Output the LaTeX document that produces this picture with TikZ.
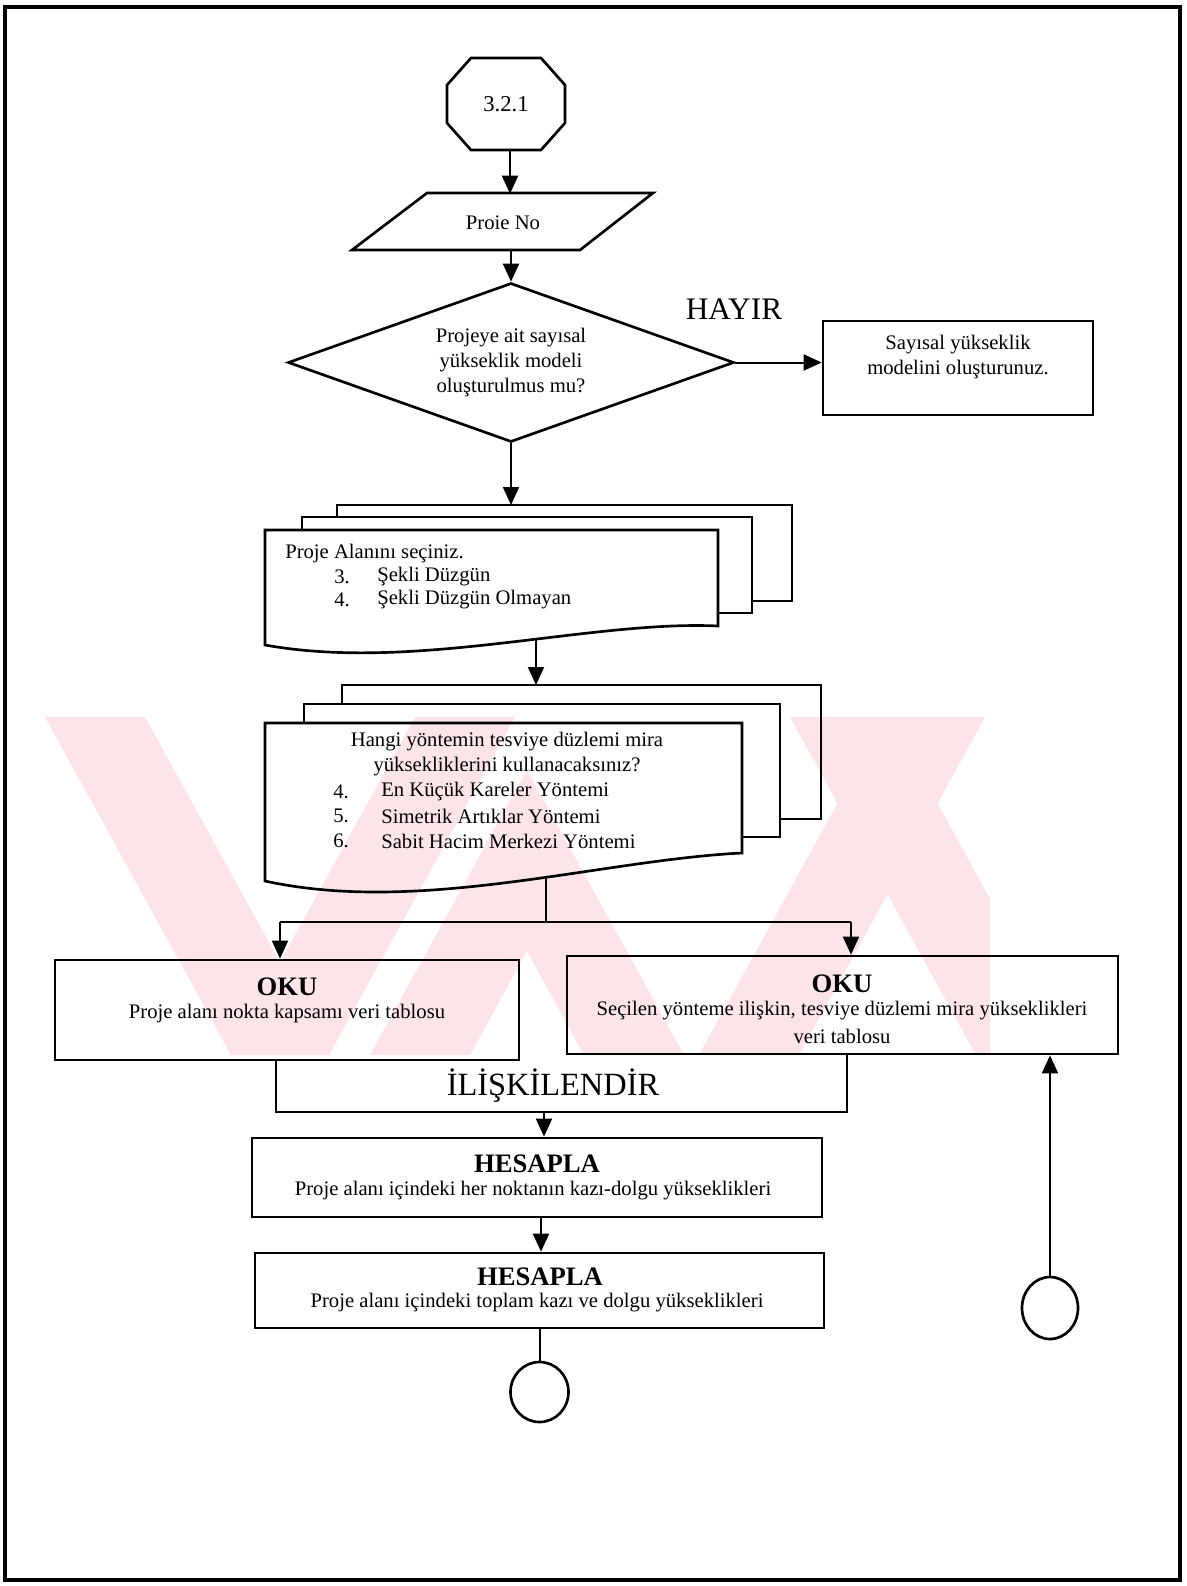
\documentclass[tikz,border=0pt]{standalone}
\usepackage{fontspec}
\setmainfont{Liberation Serif}
\usetikzlibrary{arrows.meta,shapes.geometric}
\definecolor{wm}{RGB}{252,228,233}
\begin{document}
\begin{tikzpicture}[x=0.75pt,y=-0.75pt,
  shp/.style={draw=black,line width=2pt,line join=miter},
  con/.style={draw=black,line width=1.5pt},
  arr/.style={con,-{Triangle[length=13.5pt,width=12pt]}},
  txt/.style={font=\fontsize{15.5pt}{18.5pt}\selectfont,inner sep=0pt,align=center},
  ttl/.style={font=\fontsize{20pt}{24pt}\selectfont\bfseries,inner sep=0pt},
  lbl/.style={txt,anchor=west}
]
\useasboundingbox (0,0) rectangle (1186,1586);
% watermark
\begin{scope}
  \clip (40,717) rectangle (990,1055);
  \fill[wm] (45,717) -- (145,717) -- (331,1055) -- (231,1055) -- cycle;
  \fill[wm] (415,717) -- (515,717) -- (329,1055) -- (229,1055) -- cycle;
  \fill[wm] (370,1055) -- (527,770) -- (684,1055) -- (584,1055) -- (527,951) -- (470,1055) -- cycle;
  \fill[wm] (790,717) -- (890,717) -- (1076,1055) -- (976,1055) -- cycle;
  \fill[wm] (885,717) -- (985,717) -- (799,1055) -- (699,1055) -- cycle;
\end{scope}
% page frame
\draw[line width=2.4pt] (5,7) rectangle (1180,1580);

% start octagon
\node[txt,font=\fontsize{17pt}{20pt}\selectfont,minimum width=88.5pt,minimum height=69pt] (oct) at (506,104) {3.2.1};
\draw[shp] (471,58) -- (541,58) -- (565,85) -- (565,123) -- (541,150) -- (471,150) -- (447,123) -- (447,85) -- cycle;

% parallelogram
\draw[shp] (427,193) -- (653,193) -- (580,250) -- (352,250) -- cycle;
\node[txt,minimum height=42.75pt] (par) at (503,222.5) {Proie No};
\draw[arr] ([xshift=3pt]oct.south) -- ([xshift=3pt]oct.south |- par.north);

% decision
\node[shp,diamond,txt,aspect=2.8,minimum width=334.5pt,minimum height=119.25pt] (dec) at (511,362.5)
  {Projeye ait sayısal\\yükseklik modeli\\oluşturulmus mu?};
\draw[arr] (par.south -| dec.north) -- (dec.north);
\node[font=\fontsize{23.5pt}{27pt}\selectfont,inner sep=0pt] (hayir) at (734,309) {HAYIR};

\node[shp,minimum width=202.5pt,minimum height=70.5pt,inner sep=0pt] (b1) at (958,368) {};
\node[txt] (b1t) at (958,357) {Sayısal yükseklik\\modelini oluşturunuz.};
\draw[arr] (dec.east) -- (dec.east -| b1.west);

% multi-document 1
\coordinate (d1top) at (511,505);
\draw[shp] (337,517) -- (337,505) -- (792,505) -- (792,601) -- (752,601);
\draw[shp] (302,530) -- (302,517) -- (752,517) -- (752,613) -- (718,613);
\draw[shp] (265,645) -- (265,530) -- (718,530) -- (718,626) .. controls (590,620) and (415,672) .. (265,645) -- cycle;
\draw[arr] (dec.south) -- (d1top);
\node[lbl] (d1a) at (285,554) {Proje Alanını seçiniz.};
\node[lbl] (d1n3) at (334,577) {3.};
\node[lbl] (d1i3) at (377,577) {Şekli Düzgün};
\node[lbl] (d1n4) at (334,600) {4.};
\node[lbl] (d1i4) at (377,600) {Şekli Düzgün Olmayan};

% multi-document 2
\coordinate (d1out) at (536,638);
\coordinate (d2top) at (536,685);
\draw[arr] (d1out) -- (d2top);
\draw[shp] (342,704) -- (342,685) -- (821,685) -- (821,819) -- (780,819);
\draw[shp] (304,723) -- (304,704) -- (780,704) -- (780,837) -- (742,837);
\draw[shp] (265,881) -- (265,723) -- (742,723) -- (742,853) .. controls (600,860) and (420,915) .. (265,881) -- cycle;
\node[txt] (d2h1) at (507,742) {Hangi yöntemin tesviye düzlemi mira};
\node[txt] (d2h2) at (507,767) {yüksekliklerini kullanacaksınız?};
\node[lbl] (d2n4) at (333,792) {4.};
\node[lbl] (d2i4) at (381,792) {En Küçük Kareler Yöntemi};
\node[lbl] (d2n5) at (333,816) {5.};
\node[lbl] (d2i5) at (381,816) {Simetrik Artıklar Yöntemi};
\node[lbl] (d2n6) at (333,841) {6.};
\node[lbl] (d2i6) at (381,841) {Sabit Hacim Merkezi Yöntemi};

% fork
\coordinate (d2out) at (546,876);
\coordinate (fork) at (546,922);
\coordinate (fl) at (280,922);
\coordinate (fr) at (851,922);
\draw[con] (d2out) -- (fork);
\draw[con] (fl) -- (fr);

% OKU boxes
\node[shp,minimum width=348pt,minimum height=75pt,inner sep=0pt] (oku1) at (287,1010) {};
\node[ttl] (oku1t) at (287,987) {OKU};
\node[txt] (oku1s) at (287,1014) {Proje alanı nokta kapsamı veri tablosu};
\node[shp,minimum width=413.25pt,minimum height=73.5pt,inner sep=0pt] (oku2) at (842.5,1005) {};
\node[ttl] (oku2t) at (842,984) {OKU};
\node[txt] (oku2s1) at (842,1011) {Seçilen yönteme ilişkin, tesviye düzlemi mira yükseklikleri};
\node[txt] (oku2s2) at (842,1036) {veri tablosu};
\draw[arr] (fl) -- (fl |- oku1.north);
\draw[arr] (fr) -- (fr |- oku2.north);

% relate bracket
\coordinate (bl) at (276,1112);
\coordinate (br) at (847,1112);
\coordinate (bm) at (544,1112);
\draw[shp] (bl |- oku1.south) -- (bl) -- (br) -- (br |- oku2.south);
\node[font=\fontsize{24.3pt}{28pt}\selectfont,inner sep=0pt] (rel) at (553,1086) {İLİŞKİLENDİR};

% HESAPLA boxes
\node[shp,minimum width=427.5pt,minimum height=59.25pt,inner sep=0pt] (h1) at (537,1177.5) {};
\node[ttl] (h1t) at (537,1164) {HESAPLA};
\node[txt] (h1s) at (533,1191) {Proje alanı içindeki her noktanın kazı-dolgu yükseklikleri};
\draw[arr] (bm) -- (bm |- h1.north);
\node[shp,minimum width=426.75pt,minimum height=56.25pt,inner sep=0pt] (h2) at (539.5,1290.5) {};
\node[ttl] (h2t) at (540,1277) {HESAPLA};
\node[txt] (h2s) at (537,1303) {Proje alanı içindeki toplam kazı ve dolgu yükseklikleri};
\draw[arr] ([xshift=3pt]h1.south) -- ([xshift=3pt]h1.south |- h2.north);

% connectors
\node[shp,ellipse,minimum width=43.5pt,minimum height=45pt,inner sep=0pt] (c1) at (539.5,1392) {};
\draw[con] (h2.south) -- (c1.north);
\node[shp,ellipse,minimum width=42pt,minimum height=46.5pt,inner sep=0pt] (c2) at (1050,1308) {};
\draw[arr] (c2.north) -- (c2.north |- oku2.south);
\end{tikzpicture}
\end{document}
